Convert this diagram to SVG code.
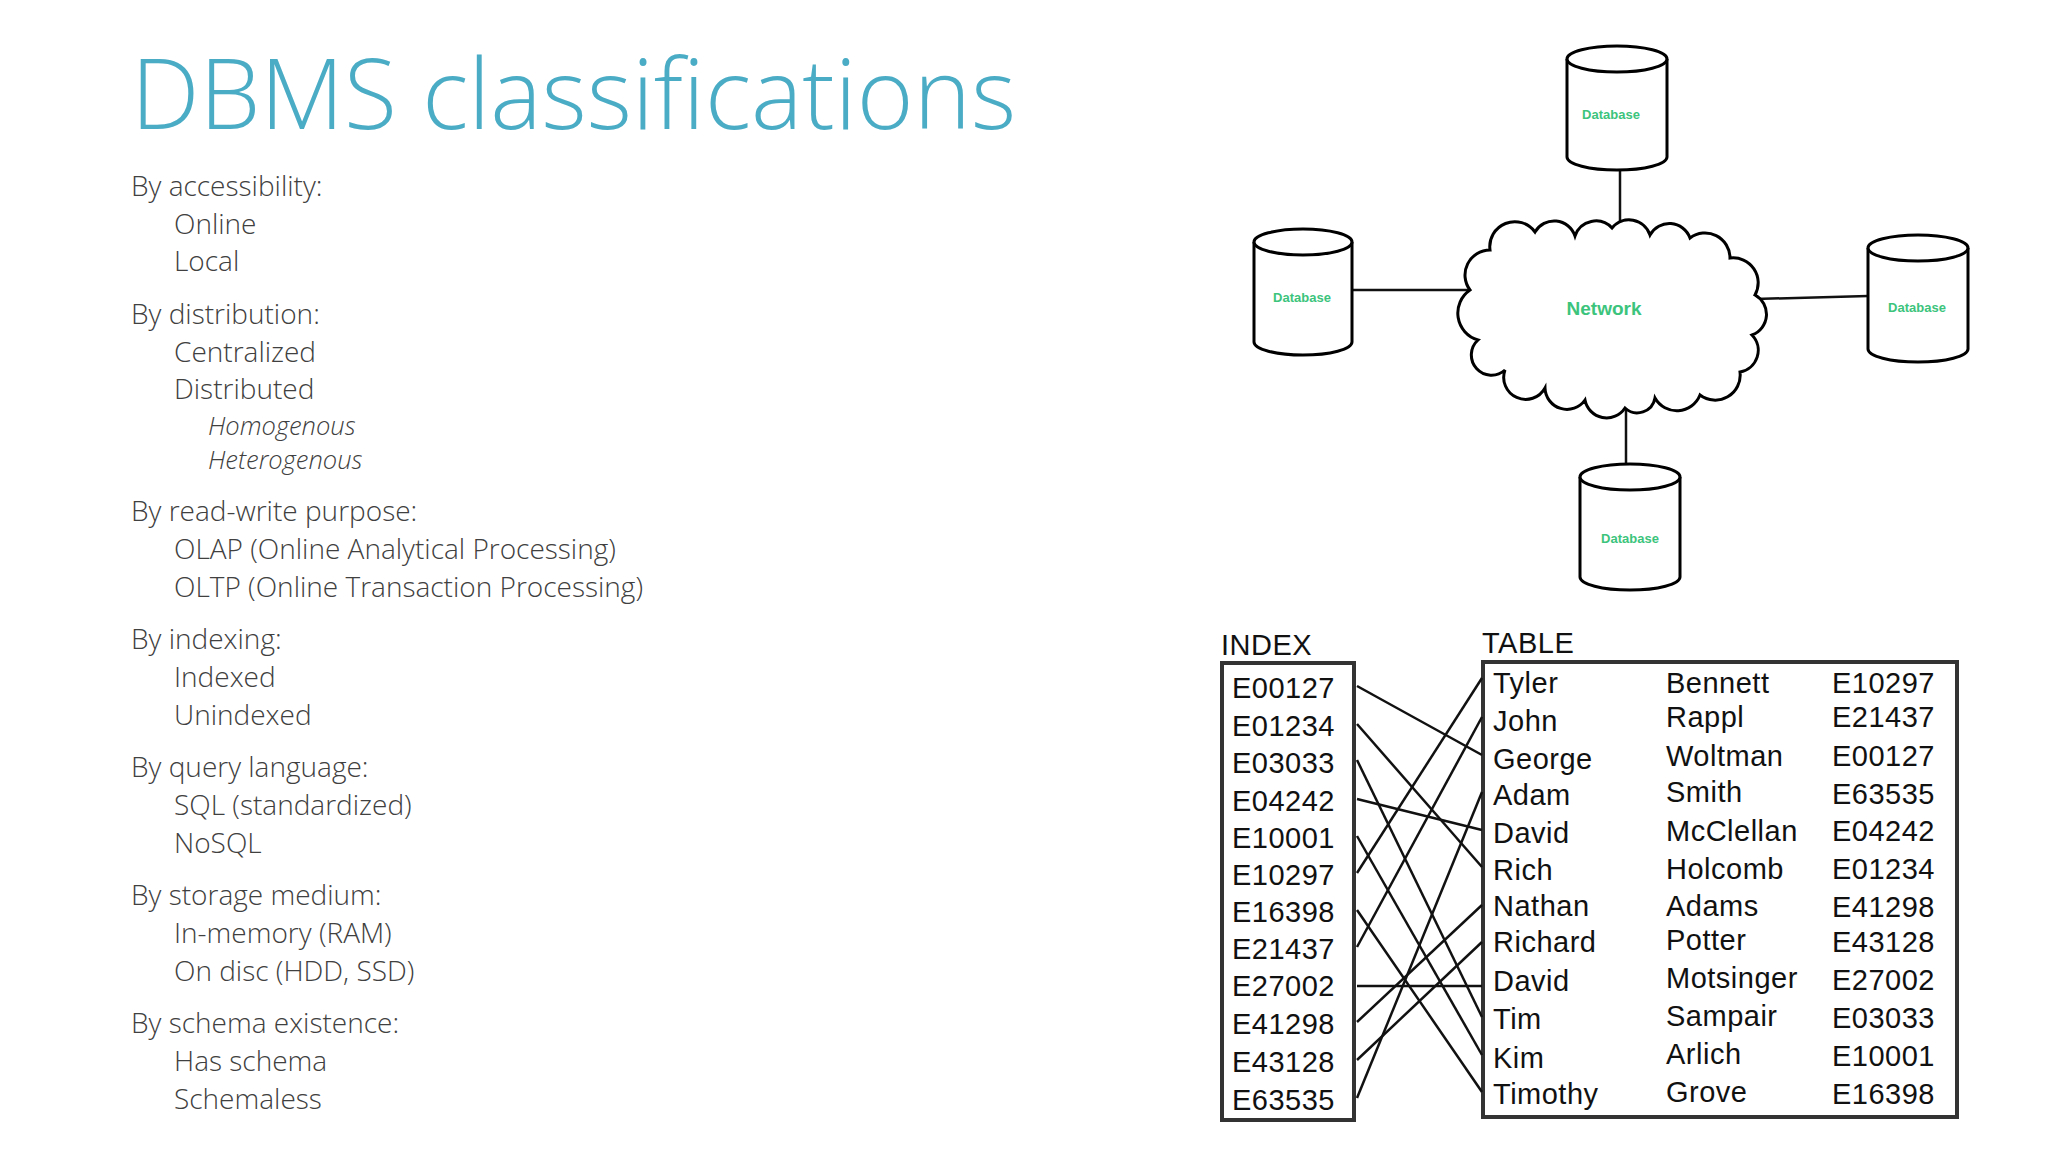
<svg xmlns="http://www.w3.org/2000/svg" width="2048" height="1152" viewBox="0 0 2048 1152">
<style>
.t{font-family:"Open Sans","Liberation Sans",sans-serif;font-weight:300;font-size:28px;fill:#404040}
.i{font-style:italic;font-size:25.5px}
.db{fill:#fff;stroke:#000;stroke-width:3}
.dl{font-family:"Liberation Sans",sans-serif;font-weight:bold;font-size:13px;fill:#3cc47c;text-anchor:middle}
.m{font-family:"Liberation Sans",Arial,sans-serif;font-size:29px;fill:#111;letter-spacing:0.5px}
.ln{stroke:#111;stroke-width:2.5;fill:none}
</style>
<rect width="2048" height="1152" fill="#fff"/>
<text x="131" y="129" font-family="Open Sans, Liberation Sans, sans-serif" font-weight="300" font-size="97" fill="#4bacc6">DBMS classifications</text>
<g id="list">
<text class="t" x="131" y="196">By accessibility:</text>
<text class="t" x="174" y="234">Online</text>
<text class="t" x="174" y="271">Local</text>
<text class="t" x="131" y="324">By distribution:</text>
<text class="t" x="174" y="362">Centralized</text>
<text class="t" x="174" y="399">Distributed</text>
<text class="t i" x="208" y="435">Homogenous</text>
<text class="t i" x="208" y="469">Heterogenous</text>
<text class="t" x="131" y="521">By read-write purpose:</text>
<text class="t" x="174" y="559">OLAP (Online Analytical Processing)</text>
<text class="t" x="174" y="597">OLTP (Online Transaction Processing)</text>
<text class="t" x="131" y="649">By indexing:</text>
<text class="t" x="174" y="687">Indexed</text>
<text class="t" x="174" y="725">Unindexed</text>
<text class="t" x="131" y="777">By query language:</text>
<text class="t" x="174" y="815">SQL (standardized)</text>
<text class="t" x="174" y="853">NoSQL</text>
<text class="t" x="131" y="905">By storage medium:</text>
<text class="t" x="174" y="943">In-memory (RAM)</text>
<text class="t" x="174" y="981">On disc (HDD, SSD)</text>
<text class="t" x="131" y="1033">By schema existence:</text>
<text class="t" x="174" y="1071">Has schema</text>
<text class="t" x="174" y="1109">Schemaless</text>
</g>
<g id="connectors" class="ln" stroke-width="3">
<line x1="1620" y1="170" x2="1620" y2="235"/>
<line x1="1352" y1="290" x2="1470" y2="290"/>
<line x1="1755" y1="299" x2="1868" y2="296"/>
<line x1="1626" y1="404" x2="1626" y2="464"/>
</g>
<g id="network">
<path class="db" d="M1470,290 A25,25 0 0 1 1490,250 A25,25 0 0 1 1535,232 A22,22 0 0 1 1575,236 A22,22 0 0 1 1612,228 A22,22 0 0 1 1650,235 A22,22 0 0 1 1690,238 A25,25 0 0 1 1730,258 A25,25 0 0 1 1755,295 A22,22 0 0 1 1752,335 A22,22 0 0 1 1740,372 A25,25 0 0 1 1700,395 A25,25 0 0 1 1655,398 A18,18 0 0 1 1625,408 A22,22 0 0 1 1585,400 A22,22 0 0 1 1545,388 A22,22 0 0 1 1505,370 A20,20 0 0 1 1478,340 A28,28 0 0 1 1470,290 Z"/>
<text x="1604" y="315" font-family="Liberation Sans, sans-serif" font-weight="bold" font-size="19" fill="#3cc47c" text-anchor="middle">Network</text>
</g>
<g id="db-top">
<path class="db" d="M1567,59 V157 A50,13 0 0 0 1667,157 V59"/>
<ellipse class="db" cx="1617" cy="59" rx="50" ry="13"/>
<text class="dl" x="1611" y="119">Database</text>
</g>
<g id="db-left">
<path class="db" d="M1254,242 V342 A49,13 0 0 0 1352,342 V242"/>
<ellipse class="db" cx="1303" cy="242" rx="49" ry="13"/>
<text class="dl" x="1302" y="302">Database</text>
</g>
<g id="db-right">
<path class="db" d="M1868,248 V349 A50,13 0 0 0 1968,349 V248"/>
<ellipse class="db" cx="1918" cy="248" rx="50" ry="13"/>
<text class="dl" x="1917" y="312">Database</text>
</g>
<g id="db-bottom">
<path class="db" d="M1580,477 V577 A50,13 0 0 0 1680,577 V477"/>
<ellipse class="db" cx="1630" cy="477" rx="50" ry="13"/>
<text class="dl" x="1630" y="543">Database</text>
</g>
<g id="index">
<text class="m" x="1221" y="655">INDEX</text>
<rect x="1222" y="663" width="132" height="457" fill="none" stroke="#333" stroke-width="4"/>
<text class="m" x="1232" y="698">E00127</text>
<text class="m" x="1232" y="736">E01234</text>
<text class="m" x="1232" y="773">E03033</text>
<text class="m" x="1232" y="811">E04242</text>
<text class="m" x="1232" y="848">E10001</text>
<text class="m" x="1232" y="885">E10297</text>
<text class="m" x="1232" y="922">E16398</text>
<text class="m" x="1232" y="959">E21437</text>
<text class="m" x="1232" y="996">E27002</text>
<text class="m" x="1232" y="1034">E41298</text>
<text class="m" x="1232" y="1072">E43128</text>
<text class="m" x="1232" y="1110">E63535</text>
</g>
<g id="table">
<text class="m" x="1482" y="653">TABLE</text>
<rect x="1483" y="662" width="474" height="455" fill="none" stroke="#333" stroke-width="4"/>
<g>
<text class="m" x="1493" y="693">Tyler</text><text class="m" x="1666" y="693">Bennett</text><text class="m" x="1832" y="693">E10297</text>
<text class="m" x="1493" y="731">John</text><text class="m" x="1666" y="727">Rappl</text><text class="m" x="1832" y="727">E21437</text>
<text class="m" x="1493" y="769">George</text><text class="m" x="1666" y="766">Woltman</text><text class="m" x="1832" y="766">E00127</text>
<text class="m" x="1493" y="805">Adam</text><text class="m" x="1666" y="802">Smith</text><text class="m" x="1832" y="804">E63535</text>
<text class="m" x="1493" y="843">David</text><text class="m" x="1666" y="841">McClellan</text><text class="m" x="1832" y="841">E04242</text>
<text class="m" x="1493" y="880">Rich</text><text class="m" x="1666" y="879">Holcomb</text><text class="m" x="1832" y="879">E01234</text>
<text class="m" x="1493" y="916">Nathan</text><text class="m" x="1666" y="916">Adams</text><text class="m" x="1832" y="917">E41298</text>
<text class="m" x="1493" y="952">Richard</text><text class="m" x="1666" y="950">Potter</text><text class="m" x="1832" y="952">E43128</text>
<text class="m" x="1493" y="991">David</text><text class="m" x="1666" y="988">Motsinger</text><text class="m" x="1832" y="990">E27002</text>
<text class="m" x="1493" y="1029">Tim</text><text class="m" x="1666" y="1026">Sampair</text><text class="m" x="1832" y="1028">E03033</text>
<text class="m" x="1493" y="1068">Kim</text><text class="m" x="1666" y="1064">Arlich</text><text class="m" x="1832" y="1066">E10001</text>
<text class="m" x="1493" y="1104">Timothy</text><text class="m" x="1666" y="1102">Grove</text><text class="m" x="1832" y="1104">E16398</text>
</g>
</g>
<g id="index-links" class="ln">
<line x1="1357" y1="686" x2="1482" y2="755"/>
<line x1="1357" y1="724" x2="1482" y2="867"/>
<line x1="1357" y1="760" x2="1482" y2="1017"/>
<line x1="1357" y1="799" x2="1482" y2="830"/>
<line x1="1357" y1="836" x2="1482" y2="1055"/>
<line x1="1357" y1="873" x2="1482" y2="678"/>
<line x1="1357" y1="910" x2="1482" y2="1092"/>
<line x1="1357" y1="947" x2="1482" y2="717"/>
<line x1="1357" y1="986" x2="1482" y2="986"/>
<line x1="1357" y1="1022" x2="1482" y2="905"/>
<line x1="1357" y1="1060" x2="1482" y2="942"/>
<line x1="1357" y1="1098" x2="1482" y2="792"/>
</g>
</svg>
